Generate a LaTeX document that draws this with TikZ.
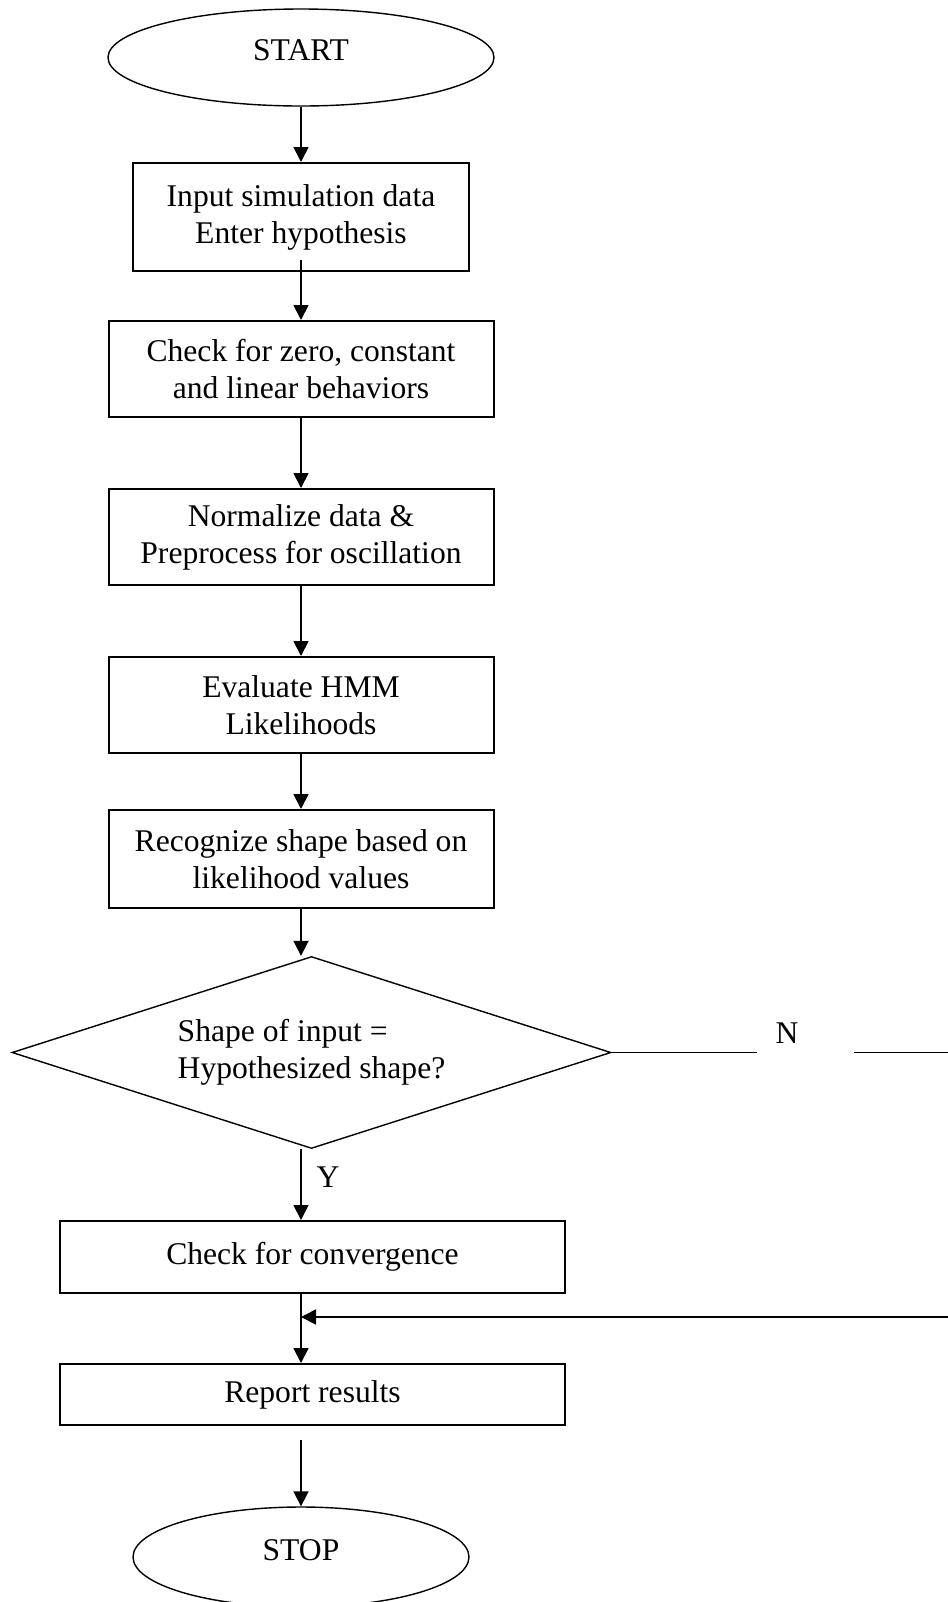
\documentclass[tikz,border=0pt]{standalone}
\usepackage{fontspec}
\setmainfont{Liberation Serif}
\usetikzlibrary{shapes.geometric, arrows.meta}

\tikzset{
  box/.style={draw, line width=1pt, inner sep=0pt, align=center},
  term/.style={draw, ellipse, line width=0.7pt, inner sep=0pt, text depth=7pt},
  decide/.style={draw, diamond, aspect=3.12, line width=0.7pt, inner sep=0pt, align=left},
  flow/.style={line width=0.9pt, -{Triangle[length=7.5pt, width=7.5pt]}},
}

\begin{document}
\begin{tikzpicture}[x=0.5pt, y=-0.5pt, font=\fontsize{15.8}{18.5}\selectfont]
    \useasboundingbox (0,0) rectangle (948,1602);
    % Start, process boxes and the decision
    \node[term, minimum width=193pt, minimum height=48.5pt] (start) at (301,57.5) {START};
    \node[box, minimum width=168pt, minimum height=54pt] (input) at (301,217) {Input simulation data\\Enter hypothesis};
    \node[box, minimum width=192.5pt, minimum height=48pt] (check) at (301,369) {Check for zero, constant\\and linear behaviors};
    \node[box, minimum width=192.5pt, minimum height=48pt] (normalize) at (301,537) {Normalize data \&\\Preprocess for oscillation};
    \node[box, minimum width=192.5pt, minimum height=48pt] (evaluate) at (301,705) {Evaluate HMM\\Likelihoods};
    \node[box, minimum width=192.5pt, minimum height=49pt] (recognize) at (301,859) {Recognize shape based on\\likelihood values};
    \node[decide, minimum width=299.5pt, minimum height=96pt] (decision) at (311.5,1052.5) {Shape of input =\\Hypothesized shape?};
    \node[box, minimum width=252.5pt, minimum height=36pt] (conv) at (312.5,1257) {Check for convergence};
    \node[box, minimum width=252.5pt, minimum height=30.5pt] (report) at (312.5,1394.5) {Report results};
    \node[term, minimum width=168pt, minimum height=50pt] (stop) at (301,1557) {STOP};
    % Main flow
    \draw[flow] (start) -- (input);
    \draw[flow] ([yshift=6pt]input.south) -- (check);
    \draw[flow] (check) -- (normalize);
    \draw[flow] (normalize) -- (evaluate);
    \draw[flow] (evaluate) -- (recognize);
    \draw[flow] (recognize.south) -- (recognize.south |- decision.north);
    \draw[flow] (recognize.south |- decision.south) -- node[pos=0.4, right, xshift=4pt] {Y} (recognize.south |- conv.north);
    \draw[flow] (recognize.south |- conv.south) -- (recognize.south |- report.north);
    \draw[flow] ([yshift=-7pt]stop.north |- report.south) -- (stop.north);
    % No branch leaves to the right and comes back above the report
    \node[inner sep=0pt, minimum width=48.5pt] (gap) at (805.5,1052.5) {};
    \node (nlab) at (787,1033) {N};
    \coordinate (nend) at (948,1052.5);
    \draw[line width=0.9pt] (decision.east) -- (gap.west);
    \draw[line width=0.9pt] (gap.east) -- (nend);
    \coordinate (back) at (948,1317);
    \draw[flow] (back) -- (back -| recognize.south);
\end{tikzpicture}
\end{document}
